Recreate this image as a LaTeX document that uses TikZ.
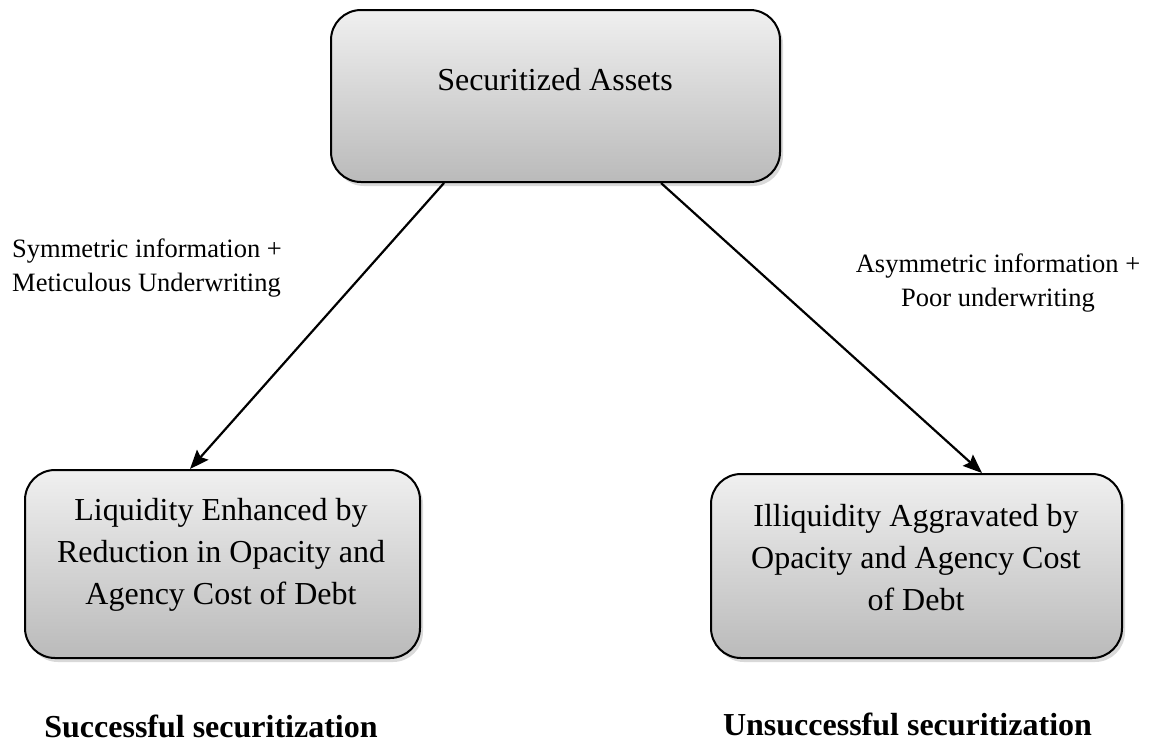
\documentclass[tikz,border=0pt]{standalone}
\usepackage{fontspec}
\setmainfont{Liberation Serif}
\usepackage{tikz}
\usetikzlibrary{shapes.geometric, arrows.meta, shadows}
\tikzstyle{box} = [draw=black, line width=2pt, rounded corners=30pt, top color=black!6, bottom color=black!27, drop shadow={shadow xshift=3pt, shadow yshift=-4pt, opacity=0.3}]
\tikzstyle{boxtext} = [align=center, inner sep=0pt, font=\fontsize{32}{42}\selectfont]
\tikzstyle{cond} = [inner sep=0pt, font=\fontsize{26.5}{34}\selectfont]
\tikzstyle{outcome} = [inner sep=0pt, font=\fontsize{32}{42}\selectfont\bfseries]
\tikzstyle{arrow} = [line width=2.2pt, -{Stealth[length=19pt,width=15pt,inset=3pt]}]

\begin{document}
\begin{tikzpicture}[x=1pt,y=-1pt]
	\useasboundingbox (0,0) rectangle (1150,742);
	
	% Boxes:
	% The shaded boxes are drawn empty, the text sits a bit above their middle
	\node[box, minimum width=449pt, minimum height=172pt] (assets) at (555.5,96) {};
	\node[boxtext] (assetsText) at (555,80) {Securitized Assets};
	
	\node[box, minimum width=395pt, minimum height=188pt] (liquid) at (222.5,564) {};
	\node[boxtext] (liquidText) at (221,555) {Liquidity Enhanced by\\ Reduction in Opacity and\\ Agency Cost of Debt};
	
	\node[box, minimum width=411pt, minimum height=184pt] (illiquid) at (916.5,566) {};
	\node[boxtext] (illiquidText) at (916,558) {Illiquidity Aggravated by\\ Opacity and Agency Cost\\ of Debt};
	
	% Arrows:
	% Start and end points are moved along the box edges with xshift
	\draw[arrow] ([xshift=114pt]assets.south west) -- ([xshift=166pt]liquid.north west);
	\draw[arrow] ([xshift=331pt]assets.south west) -- ([xshift=272pt]illiquid.north west);
	
	% Conditions next to the arrows:
	\node[cond, align=left, anchor=west] (sym) at (12,268) {Symmetric information +\\ Meticulous Underwriting};
	\node[cond, align=center] (asym) at (998,283) {Asymmetric information +\\ Poor underwriting};
	
	% Outcomes below the boxes:
	\node[outcome, anchor=base] (success) at (211,737) {Successful securitization};
	\node[outcome, anchor=base] (fail) at (907.5,735) {Unsuccessful securitization};
	
\end{tikzpicture}
\end{document}
